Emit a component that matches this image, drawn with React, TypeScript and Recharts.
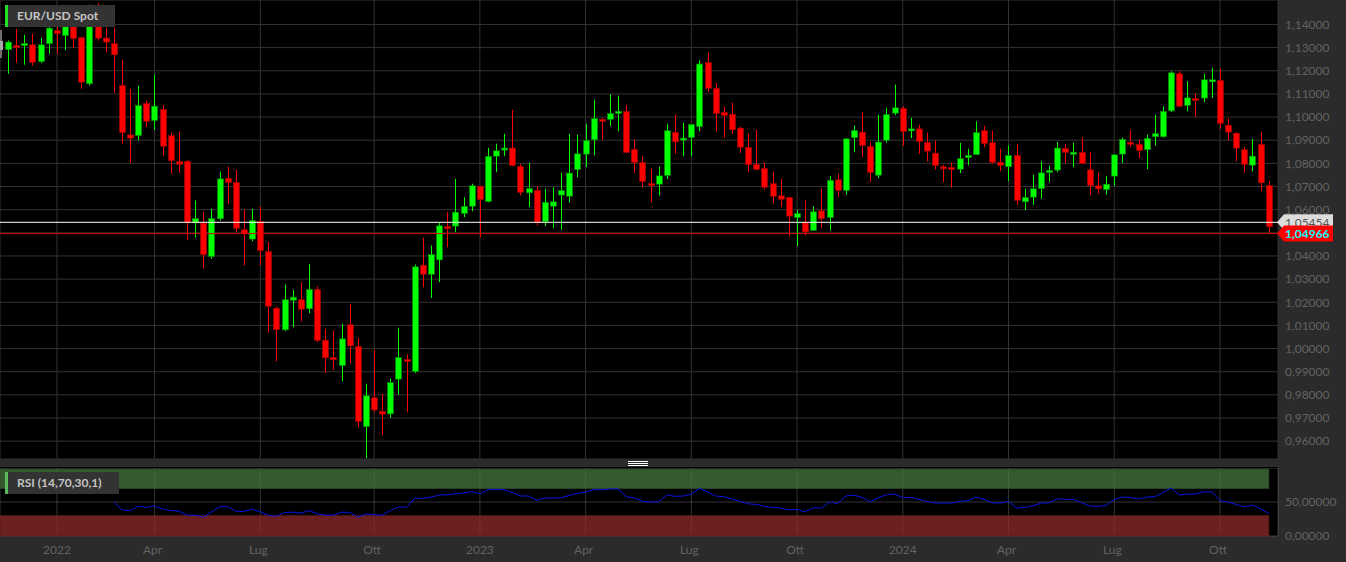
import {
  ComposedChart,
  Bar,
  Line,
  XAxis,
  YAxis,
  CartesianGrid,
  ReferenceLine,
  ReferenceArea,
} from 'recharts'

const FONT = 'Lato, sans-serif'
const GREEN = '#00ff00'
const RED = '#ff0000'
const GRID = '#333333'
const AXIS_TEXT = '#626262'

const opens = [
  1.1291, 1.1309, 1.1314, 1.1312, 1.124, 1.1317, 1.1374, 1.1352, 1.1391, 1.1343,
  1.1144, 1.1391, 1.1341, 1.1317, 1.1136, 1.0923, 1.092, 1.1059, 1.0985, 1.1033,
  1.092, 1.0808, 1.0809, 1.0543, 1.0542, 1.0398, 1.0561, 1.0736, 1.0717, 1.0513,
  1.0473, 1.0548, 1.0419, 1.0174, 1.0081, 1.0209, 1.0211, 1.0172, 1.0255, 1.0036,
  0.9961, 0.9926, 1.0103, 1.0009, 0.9663, 0.9787, 0.9728, 0.9718, 0.9868, 0.9953,
  0.9901, 1.036, 1.0321, 1.0383, 1.0527, 1.0529, 1.0584, 1.0615, 1.07, 1.0635,
  1.0831, 1.0861, 1.0866, 1.0786, 1.0673, 1.0683, 1.0549, 1.0615, 1.0663, 1.0658,
  1.0773, 1.084, 1.0902, 1.099, 1.099, 1.1017, 1.1024, 1.086, 1.0804, 1.0713,
  1.071, 1.0748, 1.0933, 1.0905, 1.0912, 1.0959, 1.1235, 1.1124, 1.102, 1.1012,
  1.0952, 1.0869, 1.0795, 1.0778, 1.0713, 1.066, 1.0653, 1.0566, 1.0546, 1.051,
  1.0595, 1.0566, 1.0729, 1.0683, 1.0911, 1.0935, 1.0873, 1.0749, 1.09, 1.1017,
  1.1037, 1.0945, 1.0949, 1.089, 1.0844, 1.0785, 1.0782, 1.0775, 1.0825, 1.0838,
  1.0941, 1.0889, 1.0805, 1.0786, 1.0835, 1.0634, 1.0654, 1.0691, 1.0764, 1.0771,
  1.0864, 1.0844, 1.0847, 1.0772, 1.0703, 1.0687, 1.0745, 1.084, 1.0891, 1.0882,
  1.0859, 1.0915, 1.0915, 1.1027, 1.1187, 1.105, 1.108, 1.1082, 1.1158, 1.1158,
  1.0964, 1.093, 1.0859, 1.0792, 1.0882, 1.0704,
]
const highs = [
  1.1331, 1.1381, 1.1355, 1.136, 1.1343, 1.1396, 1.1396, 1.1485, 1.1409, 1.1348,
  1.1486, 1.1492, 1.1387, 1.1387, 1.1247, 1.1122, 1.1136, 1.1072, 1.1183, 1.1053,
  1.0932, 1.0938, 1.0816, 1.064, 1.0592, 1.0604, 1.0765, 1.0786, 1.0772, 1.06,
  1.0604, 1.0614, 1.0461, 1.0182, 1.0277, 1.0254, 1.0287, 1.0366, 1.0268, 1.0085,
  1.0078, 1.0107, 1.0193, 1.0046, 0.9848, 0.9995, 0.9805, 0.987, 1.009, 0.9974,
  1.0363, 1.0479, 1.0445, 1.0542, 1.0589, 1.0733, 1.0654, 1.0712, 1.0704, 1.0867,
  1.0885, 1.0928, 1.1031, 1.0798, 1.0803, 1.0701, 1.069, 1.0697, 1.0759, 1.0928,
  1.0924, 1.0971, 1.1075, 1.0997, 1.1098, 1.1093, 1.1053, 1.0903, 1.083, 1.0777,
  1.0786, 1.0971, 1.1011, 1.0975, 1.097, 1.1245, 1.1278, 1.1148, 1.1046, 1.1062,
  1.0959, 1.0928, 1.0945, 1.0805, 1.0764, 1.0733, 1.0655, 1.06, 1.064, 1.0614,
  1.069, 1.0746, 1.0755, 1.0908, 1.0964, 1.1019, 1.0892, 1.101, 1.104, 1.114,
  1.1046, 1.0997, 1.0967, 1.0932, 1.0899, 1.0794, 1.0803, 1.0889, 1.0863, 1.0981,
  1.0962, 1.0941, 1.0863, 1.0877, 1.0885, 1.069, 1.0751, 1.0809, 1.079, 1.0892,
  1.0885, 1.0889, 1.0913, 1.0848, 1.0759, 1.0745, 1.0838, 1.0911, 1.0945, 1.0902,
  1.0924, 1.101, 1.1046, 1.1198, 1.1198, 1.1155, 1.1101, 1.1187, 1.1213, 1.1209,
  1.0995, 1.0935, 1.087, 1.0906, 1.0936, 1.0723,
]
const lows = [
  1.1187, 1.1235, 1.1226, 1.1222, 1.1233, 1.1273, 1.1273, 1.1288, 1.1299, 1.1122,
  1.1136, 1.1331, 1.128, 1.1105, 1.0885, 1.0803, 1.0899, 1.0956, 1.0945, 1.0834,
  1.0755, 1.0758, 1.047, 1.0479, 1.0345, 1.0388, 1.0553, 1.0625, 1.0503, 1.0359,
  1.0464, 1.0359, 1.0068, 0.9945, 1.0075, 1.0092, 1.0118, 1.0153, 1.0028, 0.9895,
  0.9908, 0.9859, 0.9937, 0.966, 0.9526, 0.9725, 0.9627, 0.9701, 0.98, 0.9725,
  0.9894, 1.0265, 1.0219, 1.0287, 1.0438, 1.0503, 1.0568, 1.0593, 1.0481, 1.0631,
  1.0762, 1.0831, 1.0789, 1.0661, 1.0611, 1.0532, 1.0529, 1.052, 1.0513, 1.063,
  1.074, 1.0784, 1.0835, 1.0903, 1.0961, 1.0939, 1.0844, 1.0758, 1.0697, 1.0632,
  1.0661, 1.0732, 1.0841, 1.0831, 1.0831, 1.0939, 1.1108, 1.0939, 1.091, 1.0928,
  1.0844, 1.0762, 1.0771, 1.0686, 1.0628, 1.0611, 1.0485, 1.0442, 1.0488, 1.0508,
  1.0522, 1.051, 1.0654, 1.0664, 1.0848, 1.0827, 1.0719, 1.0736, 1.0889, 1.1008,
  1.0876, 1.0909, 1.0841, 1.0809, 1.0774, 1.0719, 1.0695, 1.0758, 1.0791, 1.0836,
  1.087, 1.0798, 1.0766, 1.0723, 1.0621, 1.0598, 1.0621, 1.0647, 1.0719, 1.0762,
  1.0801, 1.0784, 1.0797, 1.0664, 1.0669, 1.0664, 1.0704, 1.0801, 1.087, 1.0822,
  1.0775, 1.0877, 1.0911, 1.1021, 1.1043, 1.1025, 1.1, 1.1064, 1.1083, 1.0949,
  1.0899, 1.0809, 1.0758, 1.0766, 1.068, 1.0496,
]
const closes = [
  1.1324, 1.1305, 1.1317, 1.1237, 1.1312, 1.1384, 1.1361, 1.1391, 1.134, 1.1151,
  1.1391, 1.1341, 1.1324, 1.1269, 1.0933, 1.0909, 1.105, 1.0982, 1.1047, 1.0874,
  1.0811, 1.0796, 1.0545, 1.0561, 1.0406, 1.0561, 1.0733, 1.0717, 1.0519, 1.0496,
  1.0553, 1.0424, 1.0183, 1.0082, 1.0211, 1.0222, 1.017, 1.0255, 1.0035, 0.996,
  0.9952, 1.0042, 1.0012, 0.9685, 0.9796, 0.9735, 0.9717, 0.9853, 0.9961, 0.9945,
  1.0353, 1.0321, 1.0406, 1.053, 1.0523, 1.0589, 1.0614, 1.0703, 1.0644, 1.083,
  1.0854, 1.0866, 1.0791, 1.0675, 1.0691, 1.0546, 1.0632, 1.0634, 1.0682, 1.0758,
  1.0841, 1.0899, 1.0993, 1.0985, 1.1015, 1.1025, 1.0847, 1.0804, 1.0722, 1.0706,
  1.0746, 1.0941, 1.0893, 1.0909, 1.0968, 1.1229, 1.1124, 1.1016, 1.1007, 1.0945,
  1.087, 1.0794, 1.0774, 1.0697, 1.0658, 1.0645, 1.0572, 1.0584, 1.0504, 1.0591,
  1.0561, 1.0727, 1.0683, 1.0906, 1.0942, 1.0877, 1.0761, 1.0892, 1.1011, 1.104,
  1.0938, 1.0949, 1.0895, 1.0853, 1.0791, 1.0781, 1.0774, 1.082, 1.0834, 1.0933,
  1.0886, 1.0805, 1.0791, 1.0834, 1.064, 1.0653, 1.069, 1.0759, 1.0769, 1.0866,
  1.0847, 1.0848, 1.08, 1.0704, 1.069, 1.071, 1.0837, 1.0903, 1.0886, 1.0856,
  1.0908, 1.0928, 1.1025, 1.1191, 1.1047, 1.1083, 1.1076, 1.1161, 1.1161, 1.0973,
  1.0935, 1.0866, 1.0795, 1.0831, 1.0716, 1.0526,
]
const rsiValues = [
  null, null, null, null, null, null, null, null, null, null, null, null, null,
  49.4, 38.5, 37, 44, 42, 44.4, 39.5, 37.5, 36.5, 30.6, 30.6,
  27.7, 35.1, 43, 43, 36.5, 36.1, 39.5, 35.6, 30.1, 29.1, 34.6, 35.1,
  33.6, 37.5, 32.6, 30.6, 30.6, 35.1, 34.6, 27.7, 32.6, 31.1, 30.6, 37.5,
  42.5, 42.5, 55.8, 55.3, 57.3, 60.2, 60.7, 62.2, 63.2, 65.2, 62.2, 68.1,
  68.6, 68.1, 63.7, 58.8, 58.8, 52.3, 55.8, 55.8, 56.3, 59.8, 62.7, 64.7,
  68.1, 68.1, 69.1, 69.1, 57.8, 55.8, 50.9, 49.9, 50.4, 60.7, 58.3, 58.8,
  61.7, 70.1, 64.7, 58.8, 57.8, 54.3, 50.9, 47.4, 46.4, 43.5, 42, 41,
  38.5, 39, 35.6, 41.5, 41, 49.9, 47.9, 58.8, 60.2, 56.8, 50.4, 56.3,
  60.7, 61.7, 56.3, 56.8, 53.8, 50.9, 48.4, 48.4, 48.4, 50.9, 51.9, 57.3,
  53.8, 48.9, 48.4, 50.9, 41, 42, 44.4, 48.4, 48.9, 54.8, 53.8, 53.8,
  48.9, 44, 43.5, 44.9, 53.8, 57.3, 56.8, 54.3, 57.3, 57.8, 64.2, 70.6,
  60.2, 61.7, 61.7, 64.7, 64.7, 51.9, 49.9, 46.4, 43, 45.4, 40, 33.1,
]
const priceTicks = [
  0.96, 0.97, 0.98, 0.99, 1.0, 1.01, 1.02, 1.03, 1.04, 1.05, 1.06, 1.07, 1.08, 1.09,
  1.1, 1.11, 1.12, 1.13, 1.14,
]
const rsiTicks = [0, 50]
const tickDates = [
  '2022-01-03', '2022-03-28', '2022-06-27', '2022-10-03', '2023-01-02', '2023-04-03',
  '2023-07-03', '2023-10-02', '2024-01-01', '2024-04-01', '2024-07-01', '2024-09-30',
]
const tickLabels = ['2022', 'Apr', 'Lug', 'Ott', '2023', 'Apr', 'Lug', 'Ott', '2024', 'Apr', 'Lug', 'Ott']
const spotPrice = 1.05454
const lastPrice = 1.04966

const firstWeek = Date.UTC(2021, 10, 22)
const data = opens.map((open, i) => ({
  date: new Date(firstWeek + i * 7 * 86400000).toISOString().slice(0, 10),
  open,
  high: highs[i],
  low: lows[i],
  close: closes[i],
  range: [lows[i], highs[i]],
  rsi: rsiValues[i],
}))
const lastDate = data[data.length - 1].date

const fmt = (v: number) => v.toFixed(5).replace('.', ',')
// 1,05000 sits behind the two price tags in the original
const priceFmt = (v: number) => (v === 1.05 ? '' : fmt(v))

function Candle(props: any) {
  const { x, y, width, height, payload } = props
  const { open, high, low, close } = payload
  const up = close >= open
  const perUnit = height / (high - low)
  const top = y + (high - Math.max(open, close)) * perUnit
  const bodyH = Math.max(Math.abs(close - open) * perUnit, 2)
  const cx = Math.round(x + width / 2)
  return (
    <g>
      <line x1={cx + 0.5} x2={cx + 0.5} y1={y} y2={y + height} stroke={up ? GREEN : RED} strokeWidth={1} />
      <rect
        x={cx - 2.5}
        y={top}
        width={6}
        height={bodyH}
        fill={up ? GREEN : RED}
        stroke={up ? '#008a00' : '#a00000'}
        strokeWidth={0.6}
      />
    </g>
  )
}

function PriceTag({ viewBox, value, fill, color, bold }: any) {
  const cy = viewBox.y
  const x = 1277
  return (
    <g>
      <polygon
        points={`${x},${cy} ${x + 7},${cy - 8} 1333,${cy - 8} 1333,${cy + 8} ${x + 7},${cy + 8}`}
        fill={fill}
      />
      <text
        x={1285}
        y={cy + 4.5}
        fill={color}
        fontFamily={FONT}
        fontSize={12}
        fontWeight={bold ? 700 : 400}
      >
        {fmt(value)}
      </text>
    </g>
  )
}

function TimeTick({ x, y, payload }: any) {
  const label = tickLabels[tickDates.indexOf(payload.value)]
  const isYear = label.startsWith('20')
  return (
    <text x={isYear ? x : x - 2} y={y + 10} textAnchor="middle" fill={AXIS_TEXT} fontFamily={FONT} fontSize={12}>
      {label}
    </text>
  )
}

// bands run from the pane's left edge up to the last bar
function Band({ y, x, width, height, fill, stroke }: any) {
  return <rect x={0} y={y} width={x + width} height={height} fill={fill} fillOpacity={0.75} stroke={stroke} />
}

function PaneTag({ top, width, accent, children }: any) {
  return (
    <div
      style={{
        position: 'absolute',
        left: 5,
        top,
        width,
        height: 22,
        lineHeight: '22px',
        background: '#333333',
        borderLeft: `3px solid ${accent}`,
        boxSizing: 'border-box',
        paddingLeft: 9,
        color: '#c4c4c4',
        fontFamily: FONT,
        fontSize: 12,
        fontWeight: 700,
      }}
    >
      {children}
    </div>
  )
}

export default function App() {
  return (
    <div
      style={{
        position: 'fixed',
        left: 0,
        top: 0,
        width: 1346,
        height: 562,
        overflow: 'hidden',
        background: '#2b2b2b',
      }}
    >
      <div style={{ position: 'absolute', left: 0, top: 0 }}>
        <ComposedChart width={1346} height={459} data={data} margin={{ top: 0, right: 0, bottom: 0, left: 0 }}>
          <CartesianGrid fill="#000000" fillOpacity={1} stroke={GRID} />
          <XAxis
            dataKey="date"
            ticks={tickDates}
            interval={0}
            height={0}
            tick={() => <g />}
            axisLine={false}
            tickLine={false}
            padding={{ left: 4.1, right: 5.2 }}
          />
          <YAxis
            orientation="right"
            width={68}
            domain={[0.95229, 1.15057]}
            ticks={priceTicks}
            interval={0}
            tickFormatter={priceFmt}
            tick={{ fontSize: 12, fontFamily: FONT, fill: AXIS_TEXT }}
            axisLine={false}
            tickLine={false}
            tickSize={0}
            tickMargin={7}
          />
          <Bar dataKey="range" barSize={6} shape={Candle} isAnimationActive={false} />
          <ReferenceLine
            y={spotPrice}
            stroke="#ffffff"
            label={(p: any) => <PriceTag viewBox={p.viewBox} value={spotPrice} fill="#dcdcdc" color="#555555" />}
          />
          <ReferenceLine
            y={lastPrice}
            stroke="#e00000"
            label={(p: any) => <PriceTag viewBox={p.viewBox} value={lastPrice} fill="#ff0000" color="#00ffff" bold />}
          />
        </ComposedChart>
      </div>

      <div style={{ position: 'absolute', left: 0, top: 467, width: 1278, height: 2, background: '#000000' }} />
      <div style={{ position: 'absolute', left: 0, top: 468 }}>
        <ComposedChart width={1346} height={94} data={data} margin={{ top: 0, right: 0, bottom: 0, left: 0 }}>
          <CartesianGrid fill="#000000" fillOpacity={1} stroke="rgba(255,255,255,0.2)" />
          <XAxis
            dataKey="date"
            ticks={tickDates}
            interval={0}
            height={26}
            tick={TimeTick}
            axisLine={false}
            tickLine={false}
            padding={{ left: 8.2, right: 9.2 }}
          />
          <YAxis
            orientation="right"
            width={68}
            domain={[0, 100]}
            ticks={rsiTicks}
            interval={0}
            tickFormatter={fmt}
            tick={{ fontSize: 12, fontFamily: FONT, fill: AXIS_TEXT }}
            axisLine={false}
            tickLine={false}
            tickSize={0}
            tickMargin={7}
          />
          <ReferenceArea y1={70} y2={98.5} x2={lastDate} fill="#47783f" stroke="#2a4728" shape={Band} />
          <ReferenceArea y1={0} y2={30} x2={lastDate} fill="#912b2b" stroke="#4f1a1a" shape={Band} />
          <Line dataKey="rsi" stroke="#0a14e6" strokeWidth={1} dot={false} isAnimationActive={false} connectNulls={false} />
        </ComposedChart>
      </div>

      <div style={{ position: 'absolute', left: 0, top: 30, width: 2, height: 28, background: '#6e6e6e' }} />
      <div style={{ position: 'absolute', left: 0, top: 41, width: 3, height: 9, background: '#a8a8a8' }} />
      <div
        style={{
          position: 'absolute',
          left: 628,
          top: 461,
          width: 20,
          height: 5,
          background: 'repeating-linear-gradient(#ffffff 0 1px, #2b2b2b 1px 2px)',
        }}
      />
      <PaneTag top={5} width={110} accent="#1fe01f">EUR/USD Spot</PaneTag>
      <PaneTag top={472} width={114} accent="#5cb85c">RSI (14,70,30,1)</PaneTag>
    </div>
  )
}
